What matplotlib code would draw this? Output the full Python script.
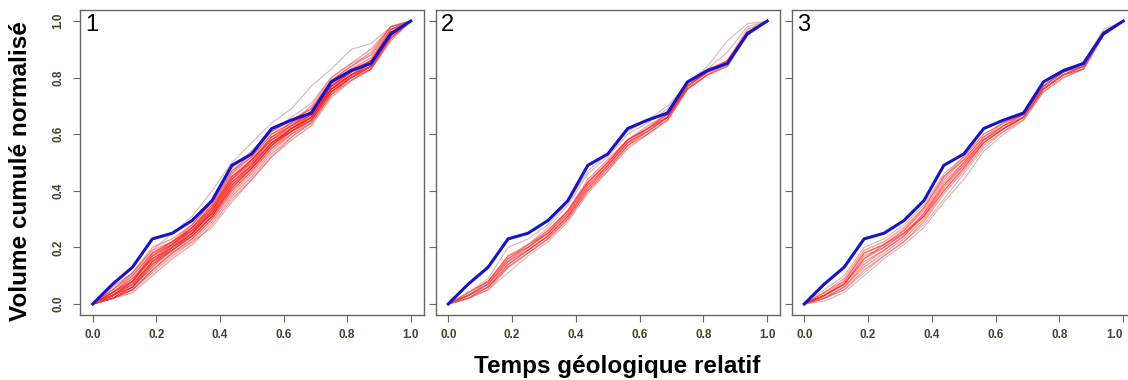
import matplotlib
matplotlib.use("Agg")
import matplotlib.pyplot as plt

# ---------------- data ----------------
time = [0, 0.0625, 0.125, 0.1875, 0.25, 0.3125, 0.375, 0.4375, 0.5,
        0.5625, 0.625, 0.6875, 0.75, 0.8125, 0.875, 0.9375, 1.0]

observed = [0, .07, .13, .23, .25, .295, .365, .49, .53, .62, .65, .675,
            .785, .825, .85, .955, 1]

panel1_sims = [
    [0, .03, .07, .15, .20, .25, .32, .42, .49, .57, .62, .66, .76, .81, .84, .95, 1],
    [0, .02, .05, .12, .18, .23, .30, .40, .47, .55, .61, .65, .75, .80, .84, .95, 1],
    [0, .04, .09, .17, .21, .26, .34, .45, .50, .59, .63, .67, .77, .82, .85, .96, 1],
    [0, .05, .11, .20, .23, .28, .36, .47, .52, .60, .64, .68, .78, .82, .86, .97, 1],
    [0, .03, .06, .13, .19, .24, .31, .41, .48, .56, .61, .65, .75, .80, .84, .94, 1],
    [0, .02, .05, .11, .17, .22, .29, .38, .45, .53, .59, .64, .74, .79, .83, .94, 1],
    [0, .04, .08, .16, .21, .27, .35, .46, .52, .60, .64, .67, .77, .81, .85, .96, 1],
    [0, .03, .07, .14, .19, .25, .33, .43, .50, .58, .63, .68, .78, .83, .87, .97, 1],
    [0, .06, .11, .19, .22, .27, .35, .47, .53, .61, .65, .69, .79, .84, .88, .98, 1],
    [0, .02, .04, .10, .16, .21, .28, .37, .44, .52, .58, .63, .73, .79, .83, .93, 1],
    [0, .03, .08, .16, .20, .26, .33, .43, .49, .57, .62, .66, .76, .81, .85, .95, 1],
    [0, .04, .10, .18, .22, .28, .36, .48, .54, .61, .65, .69, .79, .84, .89, .98, 1],
    [0, .02, .06, .14, .19, .24, .31, .40, .47, .55, .60, .65, .75, .80, .84, .95, 1],
    [0, .03, .07, .15, .21, .26, .32, .42, .48, .56, .62, .67, .77, .82, .86, .96, 1],
    [0, .05, .10, .18, .21, .27, .34, .44, .51, .59, .64, .70, .80, .85, .90, .98, 1],
    [0, .02, .05, .12, .18, .23, .30, .39, .46, .54, .60, .64, .74, .80, .84, .94, 1],
    [0, .03, .08, .17, .22, .27, .34, .45, .51, .58, .62, .66, .76, .81, .84, .95, 1],
    [0, .04, .09, .16, .20, .25, .33, .44, .50, .57, .61, .66, .76, .80, .84, .95, 1],
    [0, .02, .06, .13, .20, .25, .32, .41, .48, .56, .62, .67, .77, .82, .86, .97, 1],
    [0, .03, .07, .15, .19, .24, .31, .42, .49, .57, .61, .65, .75, .80, .83, .94, 1],
    [0, .04, .08, .17, .21, .26, .33, .44, .51, .58, .63, .67, .77, .82, .85, .96, 1],
    [0, .03, .06, .14, .20, .25, .32, .43, .49, .57, .62, .66, .76, .81, .85, .95, 1],
    [0, .02, .06, .15, .20, .24, .31, .41, .48, .56, .61, .66, .76, .81, .84, .95, 1],
    [0, .03, .08, .18, .22, .26, .34, .45, .51, .59, .63, .68, .78, .83, .86, .96, 1],
]
panel1_outliers = [
    [0, .05, .11, .19, .25, .31, .40, .50, .57, .64, .69, .77, .83, .90, .92, .98, 1],
    [0, .02, .05, .12, .18, .22, .27, .36, .44, .52, .59, .64, .74, .80, .84, .94, 1],
    [0, .03, .07, .14, .20, .26, .34, .46, .54, .61, .66, .71, .80, .85, .88, .97, 1],
]

panel2_sims = [
    [0, .03, .07, .15, .20, .25, .32, .42, .49, .57, .61, .66, .77, .82, .85, .96, 1],
    [0, .02, .06, .14, .19, .24, .31, .41, .48, .56, .60, .65, .76, .81, .84, .95, 1],
    [0, .03, .07, .16, .20, .25, .32, .43, .50, .58, .62, .66, .77, .82, .85, .96, 1],
    [0, .04, .08, .17, .21, .26, .33, .44, .51, .58, .62, .67, .78, .82, .86, .96, 1],
    [0, .02, .06, .13, .18, .23, .30, .40, .47, .55, .60, .65, .76, .81, .84, .95, 1],
    [0, .03, .07, .15, .19, .24, .31, .42, .49, .57, .61, .66, .77, .82, .85, .96, 1],
    [0, .03, .08, .16, .21, .25, .33, .43, .50, .58, .63, .67, .78, .83, .86, .97, 1],
    [0, .02, .05, .13, .18, .23, .30, .40, .48, .56, .61, .66, .76, .81, .85, .95, 1],
    [0, .03, .06, .14, .19, .24, .31, .41, .49, .57, .62, .66, .77, .82, .86, .96, 1],
    [0, .04, .08, .17, .20, .26, .33, .43, .50, .58, .62, .67, .77, .82, .85, .96, 1],
]
panel2_outliers = [
    [0, .04, .09, .20, .23, .28, .36, .47, .53, .61, .65, .70, .78, .84, .93, .99, 1],
    [0, .02, .05, .11, .17, .22, .29, .39, .47, .56, .62, .68, .77, .83, .89, .98, 1],
    [0, .03, .07, .15, .21, .27, .35, .46, .52, .60, .64, .69, .78, .82, .84, .96, 1],
]

panel3_sims = [
    [0, .03, .07, .16, .20, .25, .32, .43, .50, .58, .63, .66, .76, .81, .83, .95, 1],
    [0, .02, .06, .13, .18, .23, .30, .40, .48, .57, .62, .66, .76, .81, .84, .95, 1],
    [0, .03, .08, .18, .21, .26, .33, .44, .51, .59, .63, .67, .77, .82, .84, .96, 1],
    [0, .04, .09, .19, .22, .27, .34, .45, .51, .59, .64, .67, .77, .82, .85, .96, 1],
    [0, .02, .05, .12, .17, .22, .29, .39, .47, .56, .61, .65, .75, .80, .83, .95, 1],
    [0, .03, .07, .17, .20, .25, .31, .42, .49, .58, .62, .66, .76, .81, .84, .95, 1],
    [0, .03, .07, .15, .19, .24, .31, .41, .49, .57, .62, .66, .76, .81, .84, .96, 1],
    [0, .02, .06, .14, .19, .24, .32, .42, .50, .58, .63, .67, .77, .82, .84, .96, 1],
    [0, .04, .08, .18, .21, .25, .31, .40, .48, .57, .62, .66, .76, .81, .83, .95, 1],
    [0, .03, .07, .16, .21, .26, .34, .45, .52, .60, .64, .67, .77, .82, .85, .96, 1],
]
panel3_outliers = [
    [0, .01, .04, .10, .16, .21, .27, .36, .44, .54, .60, .65, .75, .80, .83, .95, 1],
    [0, .02, .05, .11, .17, .22, .28, .37, .46, .55, .61, .66, .76, .81, .84, .96, 1],
    [0, .05, .10, .20, .23, .28, .35, .46, .52, .60, .64, .68, .77, .82, .85, .97, 1],
]

panel_labels = ["1", "2", "3"]
x_ticks = [0.0, 0.2, 0.4, 0.6, 0.8, 1.0]
y_ticks = [0.0, 0.2, 0.4, 0.6, 0.8, 1.0]

# ---------------- figure ----------------
W, H = 1128, 380
fig = plt.figure(figsize=(W / 100, H / 100), dpi=100)

panel_px = [(80, 423.5), (435.5, 780), (791.5, 1136)]
top_px, bottom_px = 9.7, 315.3

tick_col = "#3b4a2b"
spine_col = "#666666"

panels = [(panel1_sims, panel1_outliers), (panel2_sims, panel2_outliers),
          (panel3_sims, panel3_outliers)]

for i, ((x0, x1), (sims, outl)) in enumerate(zip(panel_px, panels)):
    ax = fig.add_axes([x0 / W, (H - bottom_px) / H, (x1 - x0) / W,
                       (bottom_px - top_px) / H])
    for s in sims:
        ax.plot(time, s, color="#ff1414", alpha=0.42, lw=1.0)
    for s in outl:
        ax.plot(time, s, color="#b87878", alpha=0.55, lw=0.8)
    ax.plot(time, observed, color="#1414c8", lw=2.2, solid_joinstyle="round")
    ax.set_xlim(-0.04, 1.04)
    ax.set_ylim(-0.04, 1.04)
    ax.set_xticks(x_ticks)
    xlabels = ax.set_xticklabels([f"{t:.1f}" for t in x_ticks], fontsize=8.5,
                                 fontweight="bold", color=tick_col,
                                 family=["Liberation Sans", "DejaVu Sans"])
    if i == 2:
        xlabels[-1].set_horizontalalignment("right")
    ax.set_yticks(y_ticks)
    if i == 0:
        ax.set_yticklabels([f"{t:.1f}" for t in y_ticks], fontsize=8.5,
                           fontweight="bold", color=tick_col, rotation=90,
                           va="center",
                           family=["Liberation Sans", "DejaVu Sans"])
    else:
        ax.set_yticklabels([])
    ax.tick_params(axis="both", direction="out", length=5, width=0.8,
                   color=spine_col)
    ax.tick_params(axis="x", pad=5)
    ax.tick_params(axis="y", pad=6)
    for sp in ax.spines.values():
        sp.set_color(spine_col)
        sp.set_linewidth(1.0)
    ax.text(0.015, 0.985, panel_labels[i], transform=ax.transAxes,
            fontsize=17, va="top", ha="left",
            family=["Liberation Sans", "DejaVu Sans"])

fig.text(0.018, (H - 171) / H, "Volume cumulé normalisé", rotation=90,
         fontsize=17.5, fontweight="bold", ha="center", va="center",
         family=["Liberation Sans", "DejaVu Sans"])
fig.text(617 / W, (H - 366) / H, "Temps géologique relatif",
         fontsize=17.5, fontweight="bold", ha="center", va="center",
         family=["Liberation Sans", "DejaVu Sans"])

fig.savefig("out.png", dpi=100)
